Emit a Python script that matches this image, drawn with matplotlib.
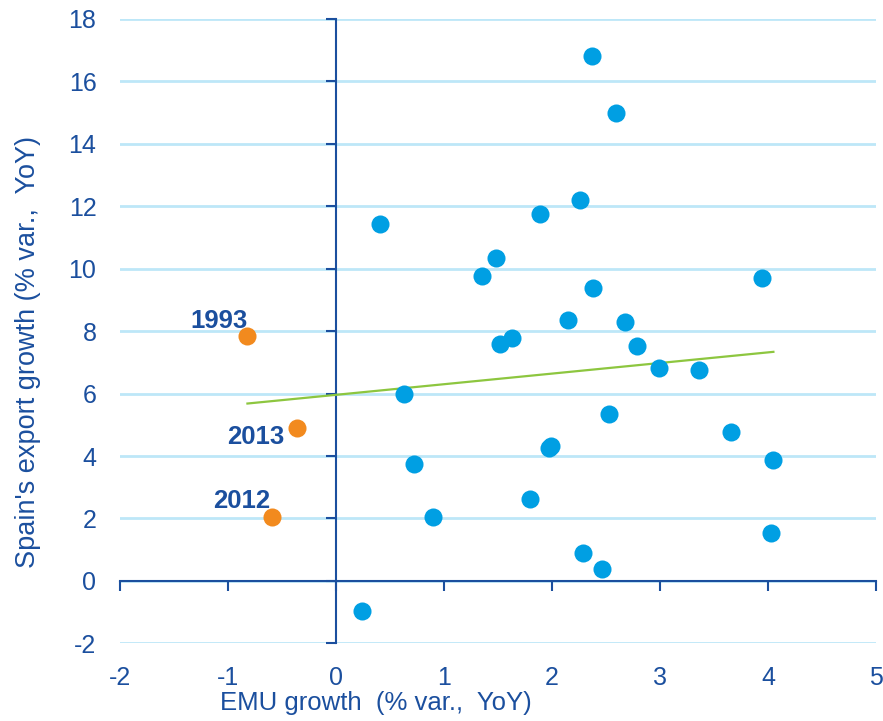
import numpy as np
import matplotlib
matplotlib.use("Agg")
import matplotlib.pyplot as plt

plt.rcParams['font.family'] = ['Liberation Sans', 'DejaVu Sans']
plt.rcParams['axes.unicode_minus'] = False

# EMU growth vs Spain's export growth, one point per year
emu_growth = [2.37, 2.59, 2.26, 1.89, 0.41, 1.48, 1.35, 2.38, 3.94, 2.15,
              2.68, 1.63, 1.52, 2.79, 2.99, 3.36, 0.63, 2.53, 3.66, 1.99,
              1.97, 0.72, 4.05, 1.80, 0.90, 4.03, 2.29, 2.46, 0.24]
export_growth = [16.8, 15.0, 12.2, 11.74, 11.42, 10.34, 9.77, 9.38, 9.70, 8.36,
                 8.29, 7.78, 7.60, 7.52, 6.83, 6.75, 6.0, 5.35, 4.78, 4.33,
                 4.25, 3.75, 3.88, 2.61, 2.04, 1.52, 0.88, 0.37, -0.97]

# highlighted years
hl_years = ["1993", "2013", "2012"]
hl_emu = [-0.82, -0.36, -0.59]
hl_export = [7.85, 4.90, 2.06]

# linear trend as drawn in the chart
trend_slope = 0.34
trend_intercept = 5.96

xticks = [-2, -1, 0, 1, 2, 3, 4, 5]
yticks = [-2, 0, 2, 4, 6, 8, 10, 12, 14, 16, 18]

dark_blue = "#1B4F9E"
point_blue = "#009FE3"
orange = "#F28A1E"
grid_blue = "#BDE7F8"
green = "#8DC63F"

fig = plt.figure(figsize=(8.83, 7.21), dpi=100)
ax = fig.add_axes([120 / 883, 1 - 643.3 / 721, 756 / 883, 624.3 / 721])
ax.set_xlim(-2, 5)
ax.set_ylim(-2, 18)

# gridlines
for y in yticks:
    ax.axhline(y, color=grid_blue, lw=2, zorder=0)

# axis lines through zero
for s in ["top", "right"]:
    ax.spines[s].set_visible(False)
for s in ["left", "bottom"]:
    ax.spines[s].set_position(("data", 0))
    ax.spines[s].set_color(dark_blue)
    ax.spines[s].set_linewidth(1.5)
    ax.spines[s].set_zorder(1)
ax.set_xticks(xticks)
ax.set_yticks(yticks)
ax.tick_params(axis="both", color=dark_blue, width=1.5, length=7, labelleft=False, labelbottom=False)

# tick labels at the outer edges
secx = ax.secondary_xaxis("bottom")
secx.set_xticks(xticks)
secx.tick_params(length=0, labelsize=18, labelcolor=dark_blue, pad=16.5)
secx.spines["bottom"].set_visible(False)
secy = ax.secondary_yaxis("left")
secy.set_yticks(yticks)
secy.tick_params(length=0, labelsize=18, labelcolor=dark_blue, pad=17)
secy.spines["left"].set_visible(False)

# trend line
tx = np.array([min(hl_emu + emu_growth), max(hl_emu + emu_growth)])
ax.plot(tx, trend_intercept + trend_slope * tx, color=green, lw=1.6, zorder=2)

ax.plot(emu_growth, export_growth, "o", color=point_blue, ms=13, mec="none", zorder=3)
ax.plot(hl_emu, hl_export, "o", color=orange, ms=13, mec="none", zorder=3)

offsets = [(-28, 15), (-41, -9), (-31, 16)]
for lab, x, y, off in zip(hl_years, hl_emu, hl_export, offsets):
    ax.annotate(lab, (x, y), xytext=off, textcoords="offset pixels",
                ha="center", va="center", fontsize=18.5, fontweight="bold", color=dark_blue)

fig.text(376 / 883, 1 - 703 / 721, "EMU growth  (% var.,  YoY)", ha="center", va="center",
         fontsize=18.5, color=dark_blue)
fig.text(28 / 883, 1 - 352 / 721, "Spain's export growth (% var.,  YoY)", ha="center", va="center",
         rotation=90, fontsize=19.5, color=dark_blue)

fig.savefig("out.png", dpi=100)
